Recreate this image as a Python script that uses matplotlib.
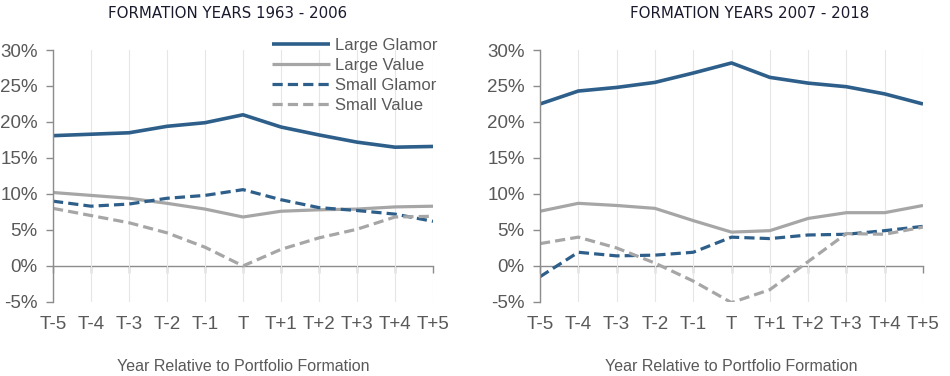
import matplotlib
matplotlib.use("Agg")
import matplotlib.pyplot as plt
from matplotlib.ticker import FuncFormatter

# ============================================================================
# DATA
# ============================================================================

periods = ["T-5", "T-4", "T-3", "T-2", "T-1", "T", "T+1", "T+2", "T+3", "T+4", "T+5"]

# Formation years 1963 - 2006 (percent)
early_large_glamor = [18.1, 18.3, 18.5, 19.4, 19.9, 21.0, 19.3, 18.2, 17.2, 16.5, 16.6]
early_large_value = [10.2, 9.8, 9.4, 8.7, 7.9, 6.8, 7.6, 7.8, 7.9, 8.2, 8.3]
early_small_glamor = [9.0, 8.3, 8.6, 9.4, 9.8, 10.6, 9.2, 8.1, 7.7, 7.2, 6.2]
early_small_value = [8.0, 7.0, 6.0, 4.6, 2.6, 0.0, 2.3, 3.9, 5.1, 6.8, 6.9]

# Formation years 2007 - 2018 (percent)
late_large_glamor = [22.5, 24.3, 24.8, 25.5, 26.8, 28.2, 26.2, 25.4, 24.9, 23.9, 22.5]
late_large_value = [7.6, 8.7, 8.4, 8.0, 6.3, 4.7, 4.9, 6.6, 7.4, 7.4, 8.4]
late_small_glamor = [-1.5, 1.9, 1.4, 1.5, 1.9, 4.0, 3.8, 4.3, 4.4, 4.9, 5.5]
late_small_value = [3.1, 4.0, 2.5, 0.4, -2.1, -5.1, -3.3, 0.6, 4.5, 4.4, 5.4]

series_names = ["Large Glamor", "Large Value", "Small Glamor", "Small Value"]

# ============================================================================
# STYLE
# ============================================================================

BLUE = "#2E5F8A"
GREY = "#A6A6A6"
TEXT = "#595959"
GRID = "#E6E6E6"
AXIS = "#8C8C8C"

plt.rcParams["font.family"] = ["Liberation Sans", "DejaVu Sans"]

styles = [
    dict(color=BLUE, lw=2.6, ls="-"),
    dict(color=GREY, lw=2.3, ls="-"),
    dict(color=BLUE, lw=2.3, ls=(0, (3.2, 1.6))),
    dict(color=GREY, lw=2.3, ls=(0, (3.2, 1.6))),
]


def draw_panel(ax, data, legend=False):
    x = list(range(len(periods)))
    for name, values, st in zip(series_names, data, styles):
        ax.plot(x, values, label=name, solid_capstyle="butt", **st)

    ax.set_xlim(0, len(periods) - 1)
    ax.set_ylim(-5, 30)
    ax.set_yticks(range(-5, 31, 5))
    ax.yaxis.set_major_formatter(FuncFormatter(lambda v, p: f"{v:.0f}%"))

    # vertical gridlines at each period
    ax.set_xticks(x)
    ax.set_xticklabels(periods)
    ax.grid(axis="x", color=GRID, lw=0.8)
    ax.set_axisbelow(True)

    for side in ["top", "right", "bottom"]:
        ax.spines[side].set_visible(False)
    ax.spines["left"].set_color(AXIS)
    ax.spines["left"].set_linewidth(1.0)

    ax.tick_params(axis="y", colors=AXIS, labelcolor=TEXT, labelsize=13.5,
                   length=5, width=1.0, pad=6)
    ax.tick_params(axis="x", length=0, labelcolor=TEXT, labelsize=13.5, pad=10)

    # horizontal axis line at zero with tick marks hanging down
    zero_frac = (0 - (-5)) / 35
    sec = ax.secondary_xaxis(zero_frac)
    sec.set_xticks(x)
    sec.set_xticklabels([])
    sec.tick_params(direction="out", length=5, width=1.0, colors=AXIS)
    sec.spines["bottom"].set_color(AXIS)
    sec.spines["bottom"].set_linewidth(1.0)

    ax.set_xlabel("Year Relative to Portfolio Formation", color=TEXT,
                  fontsize=11.5, labelpad=19)

    if legend:
        ax.legend(loc="upper right", bbox_to_anchor=(1.03, 1.075), frameon=False,
                  fontsize=12, handlelength=3.5, handletextpad=0.3,
                  labelspacing=0.3, labelcolor=TEXT, borderaxespad=0)


fig = plt.figure(figsize=(9.5, 3.76), dpi=100)
ax1 = fig.add_axes([0.0558, 0.197, 0.400, 0.670])
ax2 = fig.add_axes([0.5684, 0.197, 0.4032, 0.670])

draw_panel(ax1, [early_large_glamor, early_large_value,
                 early_small_glamor, early_small_value], legend=True)
draw_panel(ax2, [late_large_glamor, late_large_value,
                 late_small_glamor, late_small_value])

fig.text(0.240, 0.963, "FORMATION YEARS 1963 - 2006", ha="center", va="center",
         fontsize=10.8, color="#1A1A2E", family=["DejaVu Sans"])
fig.text(0.789, 0.963, "FORMATION YEARS 2007 - 2018", ha="center", va="center",
         fontsize=10.8, color="#1A1A2E", family=["DejaVu Sans"])

fig.savefig("out.png", dpi=100)
